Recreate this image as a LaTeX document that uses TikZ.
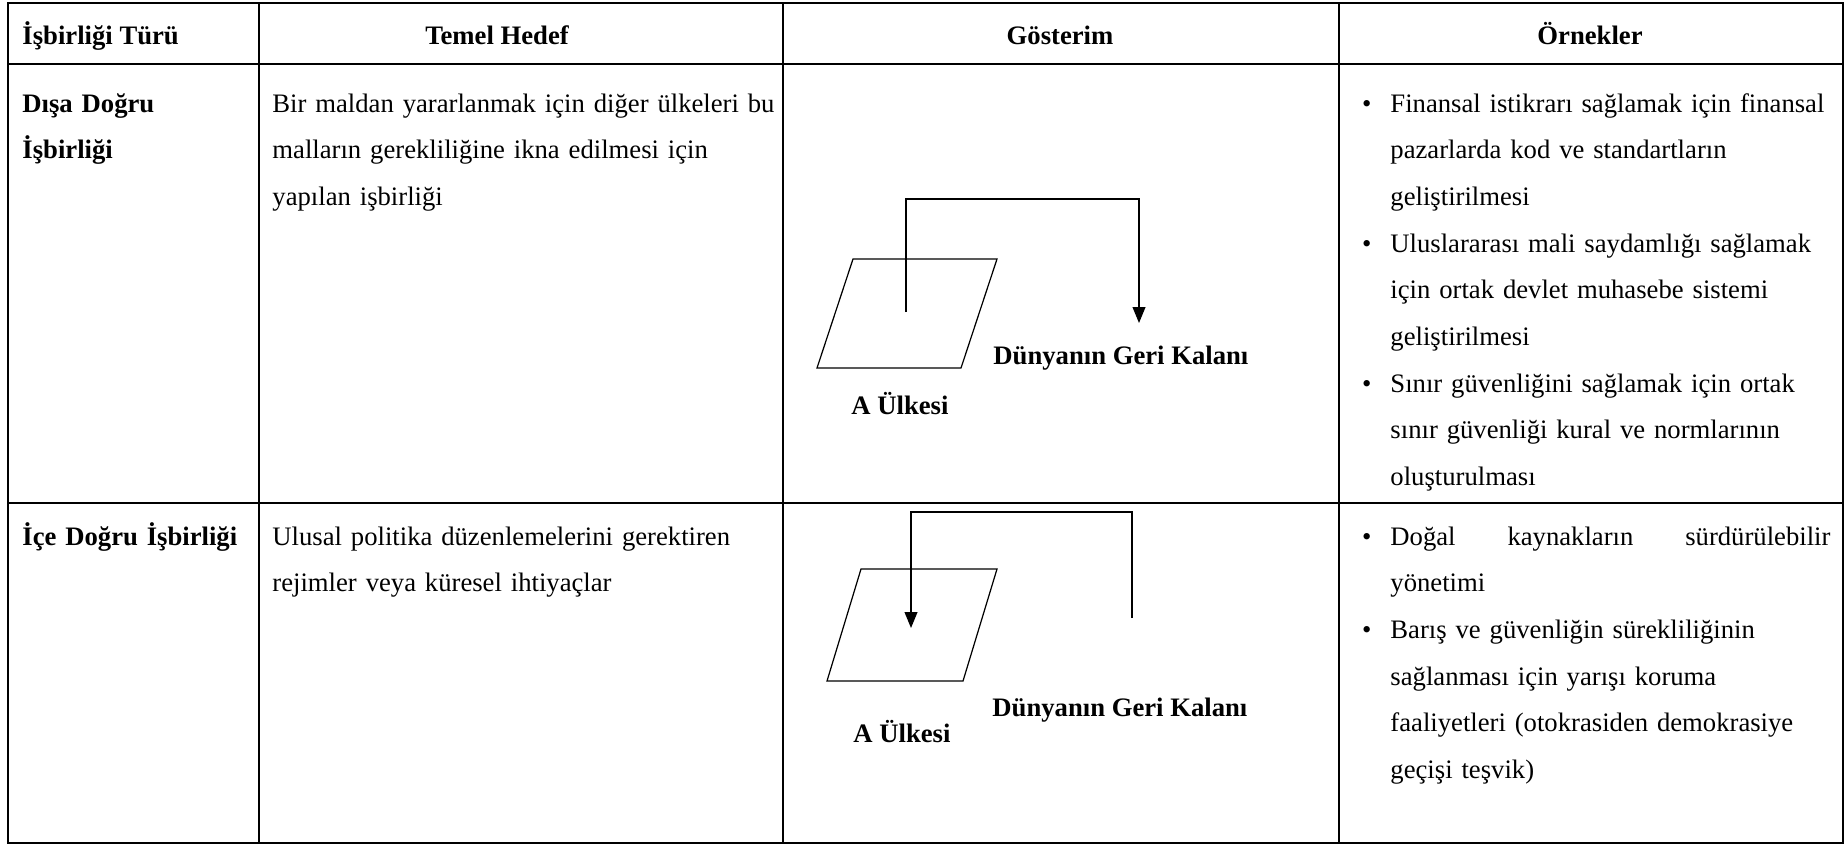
\documentclass[tikz,border=0pt]{standalone}
\usepackage{fontspec}
\setmainfont{Liberation Serif}
\usetikzlibrary{arrows.meta}
\newcommand{\blt}{\leavevmode\llap{\textbullet\hspace{8.5pt}}}
\tikzset{
  tabline/.style={
    line width=0.9pt,
    line cap=rect
    },
  head/.style={
    inner sep=0pt,
    font=\fontsize{12}{21}\selectfont\bfseries
    },
  cell/.style={
    anchor=base west,
    inner sep=0pt,
    align=left,
    font=\fontsize{12}{21}\selectfont
    },
  tag/.style={
    inner sep=0pt,
    font=\fontsize{12}{14}\selectfont\bfseries
    },
  ulke/.style={
    line width=0.55pt,
    line join=miter
    },
  flow/.style={
    line width=0.55pt,
    -{Triangle[length=7.2pt,width=5.8pt]}
    }
}
\begin{document}
\begin{tikzpicture}[x=0.45pt, y=-0.45pt]
\useasboundingbox (0,0) rectangle (1845,844);
% table
\foreach \x in {8,259,783,1339,1843}
  \draw[tabline] (\x,3) -- (\x,843);
\foreach \y in {3,64,503,843}
  \draw[tabline] (8,\y) -- (1843,\y);
% header
\node[head, anchor=base west] (tur) at (22,44) {İşbirliği Türü};
\node[head, anchor=base] (hedef) at (497,44) {Temel Hedef};
\node[head, anchor=base] (gosterim) at (1060,44) {Gösterim};
\node[head, anchor=base] (ornek) at (1590,44) {Örnekler};
% first row
\node[cell, text width=105pt, font=\fontsize{12}{21}\selectfont\bfseries] (tur1) at (22,112) {Dışa Doğru\\İşbirliği};
\node[cell, text width=240pt] (hedef1) at (272,112) {Bir maldan yararlanmak için diğer ülkeleri bu\\malların gerekliliğine ikna edilmesi için\\yapılan işbirliği};
\node[cell, text width=215pt] (ornek1) at (1390,112) {\blt Finansal istikrarı sağlamak için finansal\\pazarlarda kod ve standartların\\geliştirilmesi\\\blt Uluslararası mali saydamlığı sağlamak\\için ortak devlet muhasebe sistemi\\geliştirilmesi\\\blt Sınır güvenliğini sağlamak için ortak\\sınır güvenliği kural ve normlarının\\oluşturulması};
\draw[ulke] (853,259) -- (997,259) -- (961,368) -- (817,368) -- cycle;
\node[tag, anchor=base] (ulke1) at (900,414) {A Ülkesi};
\node[tag, anchor=base west] (dunya1) at (993,364) {Dünyanın Geri Kalanı};
\coordinate (cikis1) at (906,312);
\coordinate (kose1) at (906,199);
\coordinate (kose2) at (1139,199);
\coordinate (varis1) at (1139,323);
\draw[flow] (cikis1) -- (kose1) -- (kose2) -- (varis1);
% second row
\node[cell, text width=105pt, font=\fontsize{12}{21}\selectfont\bfseries] (tur2) at (22,545) {İçe Doğru İşbirliği};
\node[cell, text width=240pt] (hedef2) at (272,545) {Ulusal politika düzenlemelerini gerektiren\\rejimler veya küresel ihtiyaçlar};
\node[cell, text width=215pt] (ornek2) at (1390,545) {\blt\hbox to 198pt{Doğal\hfill kaynakların\hfill sürdürülebilir}\\yönetimi\\\blt Barış ve güvenliğin sürekliliğinin\\sağlanması için yarışı koruma\\faaliyetleri (otokrasiden demokrasiye\\geçişi teşvik)};
\draw[ulke] (861,569) -- (997,569) -- (963,681) -- (827,681) -- cycle;
\node[tag, anchor=base] (ulke2) at (902,742) {A Ülkesi};
\node[tag, anchor=base west] (dunya2) at (992,716) {Dünyanın Geri Kalanı};
\coordinate (cikis2) at (1132,618);
\coordinate (kose3) at (1132,512);
\coordinate (kose4) at (911,512);
\coordinate (varis2) at (911,628);
\draw[flow] (cikis2) -- (kose3) -- (kose4) -- (varis2);
\end{tikzpicture}
\end{document}
